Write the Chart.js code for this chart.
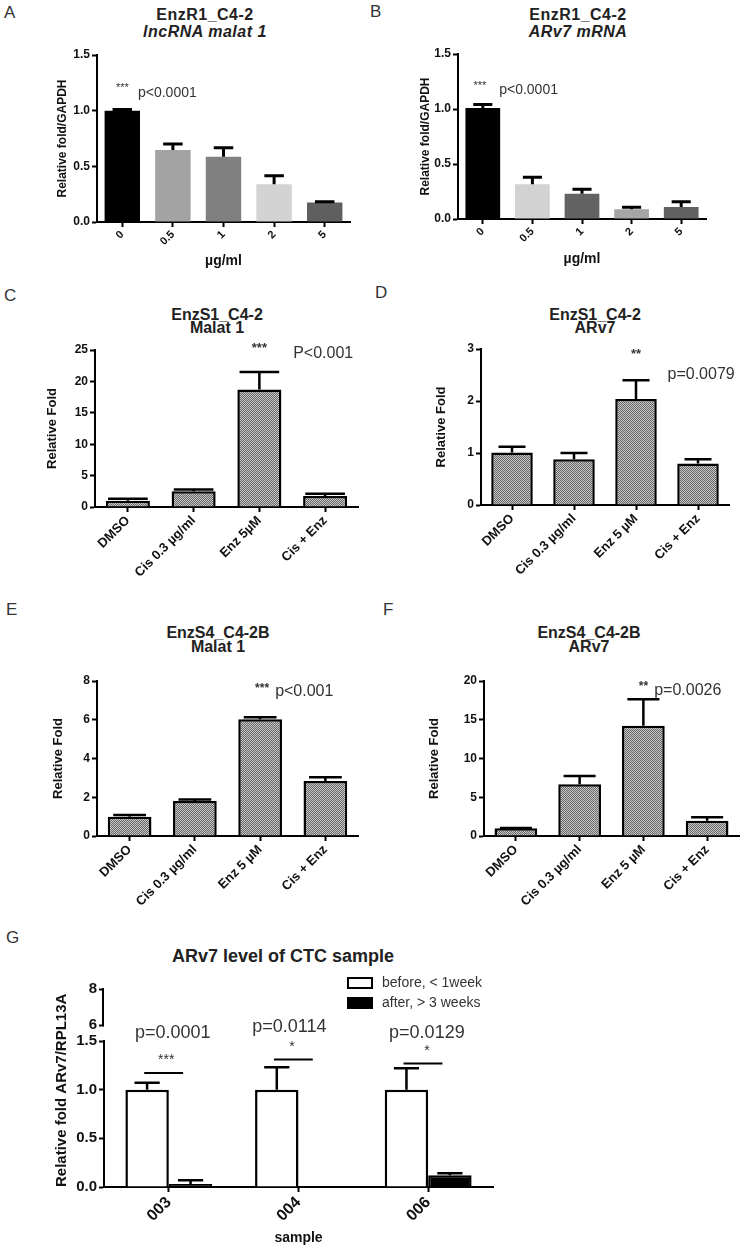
<!DOCTYPE html>
<html>
<head>
<meta charset="utf-8">
<script src="https://cdn.jsdelivr.net/npm/chart.js@4.4.1/dist/chart.umd.min.js"></script>
<style>
    body { margin: 0; background: #fff; font-family: "Liberation Sans", Arial, sans-serif; }
    #page { position: relative; width: 742px; height: 1248px; overflow: hidden; }
    canvas { position: absolute; }
    .lbl { position: absolute; color: #333; font-size: 17px; line-height: 20px; }
    .ttl { position: absolute; width: 300px; text-align: center; color: #222; font-weight: bold; font-size: 16px; }
</style>
</head>
<body>
<div id="page">
    <div class="lbl" style="left:4px;top:3px">A</div>
    <div class="lbl" style="left:370px;top:2px">B</div>
    <div class="lbl" style="left:4px;top:286px">C</div>
    <div class="lbl" style="left:375px;top:283px">D</div>
    <div class="lbl" style="left:6px;top:600px">E</div>
    <div class="lbl" style="left:383px;top:600px">F</div>
    <div class="lbl" style="left:6px;top:928px">G</div>

    <div class="ttl" style="left:55px;top:6px;line-height:17px;letter-spacing:0.5px">EnzR1_C4-2<br><i>lncRNA malat 1</i></div>
    <div class="ttl" style="left:428px;top:6px;line-height:17px;letter-spacing:0.5px">EnzR1_C4-2<br><i>ARv7 mRNA</i></div>
    <div class="ttl" style="left:67px;top:308px;line-height:13px">EnzS1_C4-2<br>Malat 1</div>
    <div class="ttl" style="left:445px;top:308px;line-height:13px">EnzS1_C4-2<br>ARv7</div>
    <div class="ttl" style="left:68px;top:626px;line-height:14px">EnzS4_C4-2B<br>Malat 1</div>
    <div class="ttl" style="left:439px;top:626px;line-height:14px">EnzS4_C4-2B<br>ARv7</div>
    <div class="ttl" style="left:83px;top:946px;width:400px;font-size:18px">ARv7 level of CTC sample</div>
</div>

<script>
// ---- Datos de cada panel ----
// A / B: EnzR1_C4-2, dosis en µg/ml
const doseLabels = ["0", "0.5", "1", "2", "5"];
const malatR1 = [1.0, 0.647, 0.587, 0.339, 0.175];
const malatR1Err = [0.01, 0.053, 0.08, 0.077, 0.008];
const arv7R1 = [1.01, 0.316, 0.23, 0.088, 0.11];
const arv7R1Err = [0.03, 0.064, 0.04, 0.018, 0.047];

// C - F: tratamientos
const treatLabelsC = ["DMSO", "Cis 0.3 µg/ml", "Enz 5µM", "Cis + Enz"];
const treatLabels = ["DMSO", "Cis 0.3 µg/ml", "Enz 5 µM", "Cis + Enz"];
const malatS1 = [1.0, 2.5, 18.7, 1.75];
const malatS1Err = [0.3, 0.3, 2.8, 0.35];
const arv7S1 = [1.01, 0.88, 2.04, 0.8];
const arv7S1Err = [0.11, 0.12, 0.36, 0.08];
const malatS4 = [1.0, 1.81, 6.02, 2.84];
const malatS4Err = [0.08, 0.08, 0.11, 0.19];
const arv7S4 = [1.0, 6.67, 14.24, 1.98];
const arv7S4Err = [0.03, 1.07, 3.39, 0.43];

// G: muestras CTC
const sampleLabels = ["003", "004", "006"];
const ctcBefore = [1.0, 1.0, 1.0];
const ctcBeforeErr = [0.07, 0.23, 0.22];
const ctcAfter = [0.03, 0, 0.12];
const ctcAfterErr = [0.04, 0, 0.02];
const ctcPValues = ["p=0.0001", "p=0.0114", "p=0.0129"];
const ctcStars = ["***", "*", "*"];
const ctcBracketLevel = [1.17, 1.31, 1.27];
const ctcTopTicks = [6, 8];

// colores de las barras A / B
const malatR1Colors = ["#000000", "#a3a3a3", "#808080", "#d3d3d3", "#5f5f5f"];
const arv7R1Colors = ["#000000", "#d2d2d2", "#636363", "#a5a5a5", "#606060"];

const FONT = "'Liberation Sans', Arial, sans-serif";
Chart.defaults.font.family = FONT;
Chart.defaults.color = "#111";
Chart.defaults.animation = false;

// trama gris punteada de las barras C-F
function hatch() {
    const c = document.createElement("canvas");
    c.width = 2;
    c.height = 2;
    const g = c.getContext("2d");
    g.fillStyle = "#c9c9c9";
    g.fillRect(0, 0, 2, 2);
    g.fillStyle = "#666666";
    g.fillRect(0, 0, 1, 1);
    g.fillRect(1, 1, 1, 1);
    return g.createPattern(c, "repeat");
}

// barras de error (solo hacia arriba)
const errorBars = {
    id: "errorBars",
    afterDatasetsDraw(chart, args, opts) {
        const ctx = chart.ctx;
        chart.data.datasets.forEach((ds, di) => {
            if (!ds.errors) return;
            const meta = chart.getDatasetMeta(di);
            const ys = chart.scales[meta.yAxisID];
            meta.data.forEach((bar, i) => {
                const e = ds.errors[i];
                if (!e) return;
                const top = ys.getPixelForValue(ds.data[i] + e);
                const half = (bar.width * opts.cap) / 2;
                ctx.save();
                ctx.strokeStyle = "#000";
                ctx.lineWidth = opts.width || 2.5;
                ctx.beginPath();
                ctx.moveTo(bar.x, bar.y);
                ctx.lineTo(bar.x, top);
                ctx.moveTo(bar.x - half, top);
                ctx.lineTo(bar.x + half, top);
                ctx.stroke();
                ctx.restore();
            });
        });
    },
};

// textos de significancia (posición en índice de categoría / valor)
const notes = {
    id: "notes",
    afterDraw(chart, args, opts) {
        const ctx = chart.ctx;
        const xs = chart.scales.x;
        const ys = chart.scales.y;
        (opts.items || []).forEach((n) => {
            ctx.save();
            ctx.font = (n.bold ? "bold " : "") + n.size + "px " + FONT;
            ctx.fillStyle = n.color || "#333";
            ctx.textAlign = n.align || "center";
            ctx.textBaseline = "middle";
            ctx.fillText(n.text, xs.getPixelForValue(n.at), ys.getPixelForValue(n.v));
            ctx.restore();
        });
        (opts.lines || []).forEach((l) => {
            const y = ys.getPixelForValue(l.v);
            ctx.save();
            ctx.strokeStyle = "#000";
            ctx.lineWidth = 2;
            ctx.beginPath();
            ctx.moveTo(xs.getPixelForValue(l.from), y);
            ctx.lineTo(xs.getPixelForValue(l.to), y);
            ctx.stroke();
            ctx.restore();
        });
    },
};

// leyenda de cajas del panel G
const boxLegend = {
    id: "boxLegend",
    afterDraw(chart, args, opts) {
        const ctx = chart.ctx;
        chart.data.datasets.forEach((ds, i) => {
            const y = opts.y + i * opts.row;
            ctx.save();
            ctx.fillStyle = ds.backgroundColor;
            ctx.fillRect(opts.x, y, 24, 10);
            ctx.strokeStyle = ds.borderColor;
            ctx.lineWidth = 2;
            ctx.strokeRect(opts.x, y, 24, 10);
            ctx.fillStyle = "#333";
            ctx.font = "14px " + FONT;
            ctx.textBaseline = "middle";
            ctx.fillText(ds.label, opts.x + 34, y + 5);
            ctx.restore();
        });
    },
};

// tramo superior del eje cortado (6 - 8)
const topSegment = {
    id: "topSegment",
    afterDraw(chart) {
        const s = chart.scales.yTop;
        if (!s) return;
        const ctx = chart.ctx;
        ctx.save();
        ctx.strokeStyle = "#000";
        ctx.lineWidth = 2;
        ctx.beginPath();
        ctx.moveTo(s.right - 1, s.getPixelForValue(ctcTopTicks[0]) + 1);
        ctx.lineTo(s.right - 1, s.getPixelForValue(ctcTopTicks[1]) - 1);
        ctx.stroke();
        ctx.restore();
    },
};

function yAxis(max, step, title, titleSize, titlePad, decimals) {
    return {
        min: 0,
        max: max,
        border: { color: "#000", width: 2 },
        grid: { drawOnChartArea: false, tickLength: 5, tickColor: "#000", tickWidth: 2 },
        ticks: {
            stepSize: step,
            color: "#111",
            padding: 2,
            font: { size: 12, weight: "bold" },
            callback: (v) => (decimals ? v.toFixed(decimals) : v),
        },
        title: {
            display: true,
            text: title,
            color: "#111",
            font: { size: titleSize, weight: "bold" },
            padding: { top: titlePad, bottom: 0 },
        },
    };
}

function xAxis(fontSize, title, titlePad) {
    return {
        border: { color: "#000", width: 2 },
        grid: { offset: false, drawOnChartArea: false, tickLength: 5, tickColor: "#000", tickWidth: 2 },
        ticks: {
            autoSkip: false,
            minRotation: 45,
            maxRotation: 45,
            padding: 1,
            color: "#111",
            font: { size: fontSize, weight: "bold" },
        },
        title: title
            ? { display: true, text: title, color: "#111", font: { size: 14, weight: "bold" }, padding: { top: 0, bottom: titlePad } }
            : { display: false },
    };
}

// crea un canvas en la página; box = rectángulo del canvas, area = área del gráfico
function panel(box, area, config) {
    const cv = document.createElement("canvas");
    cv.width = box.w;
    cv.height = box.h;
    cv.style.left = box.x + "px";
    cv.style.top = box.y + "px";
    document.getElementById("page").appendChild(cv);
    const yw = area.l - box.x;
    const xh = box.y + box.h - area.b;
    const o = config.options;
    o.responsive = false;
    o.layout = { padding: { left: 0, top: area.t - box.y, right: box.x + box.w - area.r, bottom: 0 } };
    Object.keys(o.scales).forEach((k) => {
        o.scales[k].afterFit = k === "x" ? (s) => { s.height = xh; } : (s) => { s.width = yw; };
    });
    o.plugins = Object.assign({ legend: { display: false }, tooltip: { enabled: false } }, o.plugins);
    return new Chart(cv.getContext("2d"), config);
}

// Gráfico A y B (barras sólidas)
function doseChart(box, area, values, errors, colors, titlePad, notesList) {
    panel(box, area, {
        type: "bar",
        data: {
            labels: doseLabels,
            datasets: [{ data: values, errors: errors, backgroundColor: colors, barPercentage: 0.7, categoryPercentage: 1 }],
        },
        options: {
            scales: {
                x: xAxis(11, "µg/ml", titlePad.x),
                y: yAxis(1.5, 0.5, "Relative fold/GAPDH", 12, titlePad.y, 1),
            },
            plugins: { errorBars: { cap: 0.55, width: 3 }, notes: { items: notesList } },
        },
        plugins: [errorBars, notes],
    });
}

// Gráficos C - F (barras con trama)
function treatChart(box, area, labels, values, errors, max, step, titlePad, cap, notesList) {
    panel(box, area, {
        type: "bar",
        data: {
            labels: labels,
            datasets: [{
                data: values,
                errors: errors,
                backgroundColor: hatch(),
                borderColor: "#000",
                borderWidth: 2.5,
                barPercentage: 0.67,
                categoryPercentage: 1,
            }],
        },
        options: {
            scales: {
                x: xAxis(13),
                y: yAxis(max, step, "Relative Fold", 13, titlePad, 0),
            },
            plugins: { errorBars: { cap: cap, width: 2.5 }, notes: { items: notesList } },
        },
        plugins: [errorBars, notes],
    });
}

doseChart({ x: 0, y: 40, w: 371, h: 240 }, { l: 97, t: 55, r: 350, b: 222 },
    malatR1, malatR1Err, malatR1Colors, { x: 10.2, y: 55.8 }, [
        { text: "***", at: 0, v: 1.2, size: 11 },
        { text: "p<0.0001", at: 0.31, v: 1.16, size: 14, align: "left" },
    ]);

doseChart({ x: 371, y: 40, w: 371, h: 240 }, { l: 458, t: 54, r: 706, b: 219 },
    arv7R1, arv7R1Err, arv7R1Colors, { x: 12.2, y: 47.8 }, [
        { text: "***", at: -0.06, v: 1.21, size: 11 },
        { text: "p<0.0001", at: 0.33, v: 1.17, size: 14, align: "left" },
    ]);

treatChart({ x: 0, y: 335, w: 371, h: 265 }, { l: 95, t: 350, r: 358, b: 507 },
    treatLabelsC, malatS1, malatS1Err, 25, 5, 44.2, 0.9, [
        { text: "***", at: 2, v: 25.2, size: 13, bold: true },
        { text: "P<0.001", at: 2.97, v: 24.5, size: 16 },
    ]);

treatChart({ x: 371, y: 335, w: 371, h: 265 }, { l: 481, t: 349, r: 729, b: 505 },
    treatLabels, arv7S1, arv7S1Err, 3, 1, 62.2, 0.65, [
        { text: "**", at: 2, v: 2.9, size: 13, bold: true },
        { text: "p=0.0079", at: 3.05, v: 2.5, size: 16 },
    ]);

treatChart({ x: 0, y: 665, w: 371, h: 255 }, { l: 97, t: 681, r: 358, b: 836 },
    treatLabels, malatS4, malatS4Err, 8, 2, 50.2, 0.75, [
        { text: "***", at: 2.03, v: 7.6, size: 12, bold: true },
        { text: "p<0.001", at: 2.23, v: 7.47, size: 16, align: "left" },
    ]);

treatChart({ x: 371, y: 665, w: 371, h: 255 }, { l: 484, t: 681, r: 739, b: 836 },
    treatLabels, arv7S4, arv7S4Err, 20, 5, 55.2, 0.75, [
        { text: "**", at: 2, v: 19.3, size: 12, bold: true },
        { text: "p=0.0026", at: 2.17, v: 18.8, size: 16, align: "left" },
    ]);

// Gráfico G: eje Y cortado con dos escalas apiladas
const ctcNotes = [];
const ctcLines = [];
sampleLabels.forEach((s, i) => {
    ctcNotes.push({ text: ctcPValues[i], at: i + [0.03, -0.07, -0.01][i], v: [1.58, 1.64, 1.58][i], size: 18 });
    ctcNotes.push({ text: ctcStars[i], at: i + [-0.02, -0.05, -0.01][i], v: ctcBracketLevel[i] + 0.13, size: 14 });
    ctcLines.push({ from: i - 0.19, to: i + 0.11, v: ctcBracketLevel[i] });
});

const yLow = yAxis(1.5, 0.5, "Relative fold ARv7/RPL13A", 15, 53, 1);
yLow.stack = "ctc";
yLow.stackWeight = 146;
yLow.ticks.font = { size: 15, weight: "bold" };
yLow.title.align = "start";

panel({ x: 0, y: 925, w: 520, h: 323 }, { l: 104, t: 972, r: 493, b: 1187 }, {
    type: "bar",
    data: {
        labels: sampleLabels,
        datasets: [
            { label: "before, < 1week", data: ctcBefore, errors: ctcBeforeErr, backgroundColor: "#ffffff", borderColor: "#000", borderWidth: 2.5 },
            { label: "after, > 3 weeks", data: ctcAfter, errors: ctcAfterErr, backgroundColor: "#000000", borderColor: "#000", borderWidth: 2.5 },
        ],
    },
    options: {
        datasets: { bar: { barPercentage: 1, categoryPercentage: 0.67 } },
        scales: {
            x: xAxis(16, "sample", 1.6),
            y: yLow,
            yTop: {
                type: "linear",
                position: "left",
                stack: "ctc",
                stackWeight: 69,
                min: 5.13,
                max: 8.94,
                afterBuildTicks: (s) => { s.ticks = ctcTopTicks.map((v) => ({ value: v })); },
                border: { display: false },
                grid: { drawOnChartArea: false, tickLength: 5, tickColor: "#000", tickWidth: 2 },
                ticks: { color: "#111", padding: 2, font: { size: 15, weight: "bold" } },
            },
        },
        plugins: {
            errorBars: { cap: 0.58, width: 2.5 },
            notes: { items: ctcNotes, lines: ctcLines },
            boxLegend: { x: 348, y: 53, row: 20 },
        },
    },
    plugins: [errorBars, notes, boxLegend, topSegment],
});
</script>
</body>
</html>
